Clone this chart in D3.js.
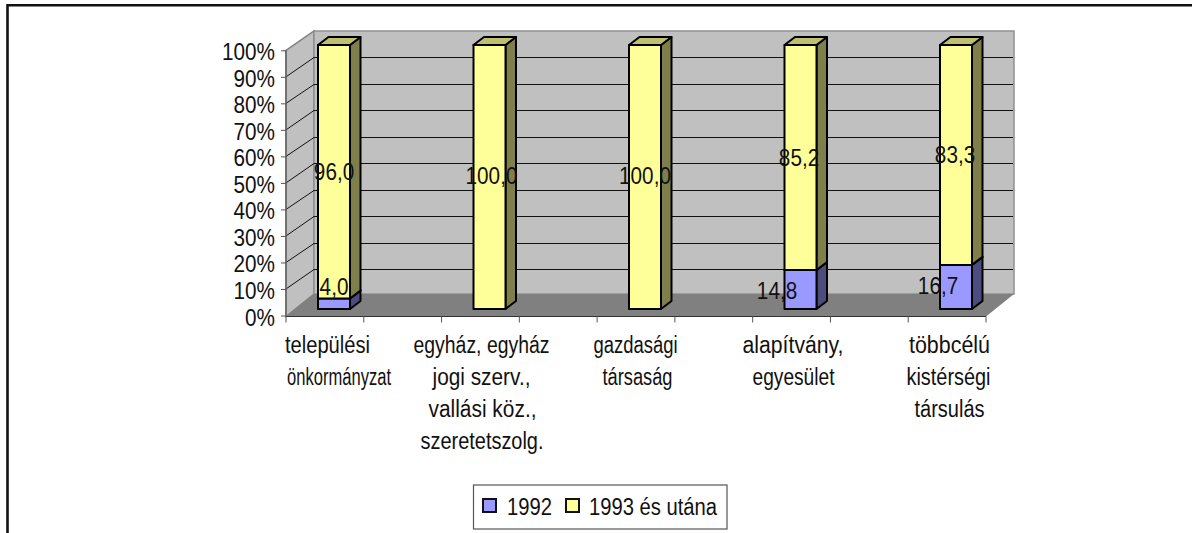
<!DOCTYPE html>
<html><head><meta charset="utf-8">
<script src="https://cdn.jsdelivr.net/npm/d3@7"></script>
<style>html,body{margin:0;padding:0;background:#fff}svg{display:block}text{font-family:"Liberation Sans",Arial,sans-serif;fill:#111}</style>
</head><body><svg id="c" width="1192" height="533"></svg>
<script>
const categories = [
  ["települési","önkormányzat"],
  ["egyház, egyház","jogi szerv.,","vallási köz.,","szeretetszolg."],
  ["gazdasági","társaság"],
  ["alapítvány,","egyesület"],
  ["többcélú","kistérségi","társulás"]
];
const seriesNames = ["1992","1993 és utána"];
const v1992 = [4.0,0,0,14.8,16.7];
const v1993 = [96.0,100.0,100.0,85.2,83.3];
const yTicks = [0,10,20,30,40,50,60,70,80,90,100];
const label1992dx = [0,0,0,-23.5,-18];
const label1992dy = [-9,0,0,10,7];
const label1993dx = [0,2,0,-1.5,-1];
const label1993dy = [8,7,7,8.5,8];
const catLineDx = [[1,12.5],[-0.5,-0.5,0.5,0],[-2,0],[0,0.5],[1,0,1]];
const catLineW = [[85,104],[136,98,108,123],[84,70],[101,82],[81,84,70]];
const colors = {
  wall:"#c0c0c0", floor:"#808080",
  front:["#9999ff","#ffff99"], side:["#4c4c7f","#7f7f4c"], top:["#bfbf72","#bfbf72"]
};
const svg = d3.select("#c");
// frame
svg.append("path").attr("d","M7.5,533V5.2H1192").attr("fill","none").attr("stroke","#111").attr("stroke-width",2.6);

const yFront = d3.scaleLinear().domain([0,100]).range([315.5,50.3]);
const yBack = d3.scaleLinear().domain([0,100]).range([295.5,31]);
const yBar = d3.scaleLinear().domain([0,100]).range([309,45]);
const xFront = 286, xBack = 314, xEnd = 986, xBackEnd = 1014, floorFront = 316.5, floorBack = 294;
const xCat = d3.scalePoint().domain(d3.range(categories.length)).range([334,956]);
const xTick = d3.scaleLinear().domain([0,9]).range([xFront,xEnd]);
const barW = 32, dx = 10.5, dy = -8;
const crisp = y => Math.round(y)+0.5;

// walls
const line = p => "M"+p.map(a=>a.join(",")).join("L")+"Z";
svg.append("path").attr("d",line([[xFront,floorFront],[xBack,floorBack],[xBack,yBack(100)],[xFront,yFront(100)]]))
  .attr("fill",colors.wall).attr("stroke","#808080").attr("stroke-width",1.5);
svg.append("path").attr("d",line([[xBack,floorBack],[xBackEnd,floorBack],[xBackEnd,yBack(100)],[xBack,yBack(100)]]))
  .attr("fill",colors.wall).attr("stroke","#909090").attr("stroke-width",1.5);
svg.append("path").attr("d",line([[xFront,floorFront],[xEnd,floorFront],[xBackEnd,floorBack],[xBack,floorBack]]))
  .attr("fill",colors.floor);
// gridlines
yTicks.filter(t=>t>0&&t<100).forEach(t=>{
  svg.append("path").attr("fill","none").attr("stroke","#111").attr("stroke-width",1)
    .attr("d",`M${xFront},${yFront(t)}L${xBack},${crisp(yBack(t))}L${xBackEnd-1},${crisp(yBack(t))}`);
});
svg.append("line").attr("x1",xFront).attr("x2",xFront).attr("y1",floorFront).attr("y2",yFront(100)).attr("stroke","#666").attr("stroke-width",1.5);
svg.append("line").attr("x1",xFront).attr("x2",xEnd).attr("y1",floorFront).attr("y2",floorFront).attr("stroke","#333").attr("stroke-width",1.2);

// y axis
const axisG = svg.append("g").attr("transform",`translate(${xFront},0)`)
  .call(d3.axisLeft(yFront).tickValues(yTicks).tickFormat(d=>d+"%").tickSize(5).tickPadding(6));
axisG.select(".domain").remove();
axisG.selectAll(".tick line").attr("stroke","#555");
axisG.selectAll("text").attr("font-size",23).attr("dy",null).attr("x",-11/0.9).attr("y",9.5).attr("font-family",null).attr("transform","scale(0.9,1)");

// x ticks
d3.range(10).forEach(i=>{
  svg.append("line").attr("x1",xTick(i)).attr("x2",xTick(i)).attr("y1",floorFront).attr("y2",floorFront+6).attr("stroke","#555");
});

// bars
function box(i,a,b,s){
  const x0 = xCat(i)-barW/2, x1 = x0+barW, y0 = yBar(a), y1 = yBar(b);
  const g = svg.append("g").attr("stroke","#000").attr("stroke-width",2).attr("stroke-linejoin","round");
  g.append("path").attr("d",line([[x1,y0],[x1+dx,y0+dy],[x1+dx,y1+dy],[x1,y1]])).attr("fill",colors.side[s]);
  g.append("path").attr("d",line([[x0,y1],[x1,y1],[x1+dx,y1+dy],[x0+dx,y1+dy]])).attr("fill",colors.top[s]);
  g.append("path").attr("d",line([[x0,y0],[x1,y0],[x1,y1],[x0,y1]])).attr("fill",colors.front[s]);
}
const fmt = v => v.toFixed(1).replace(".",",");
const dataLabel = (x,y,t) => svg.append("text").attr("text-anchor","middle").attr("font-size",23)
  .attr("transform",`translate(${x},${y}) scale(0.9,1)`).text(t);
categories.forEach((c,i)=>{
  if(v1992[i]>0) box(i,0,v1992[i],0);
  box(i,v1992[i],100,1);
});
categories.forEach((c,i)=>{
  if(v1992[i]>0) dataLabel(xCat(i)+label1992dx[i],yBar(v1992[i]/2)+label1992dy[i],fmt(v1992[i]));
  dataLabel(xCat(i)+label1993dx[i],yBar(v1992[i]+v1993[i]/2)+label1993dy[i],fmt(v1993[i]));
});

// category labels
categories.forEach((c,i)=>{
  c.forEach((t,j)=>{
    svg.append("text").attr("text-anchor","middle").attr("font-size",23)
      .attr("textLength",catLineW[i][j]).attr("lengthAdjust","spacingAndGlyphs")
      .attr("x",xCat(i)-7.5+catLineDx[i][j]).attr("y",353+j*32).text(t);
  });
});

// legend
const lg = svg.append("g");
lg.append("rect").attr("x",473.5).attr("y",485).attr("width",253.5).attr("height",44).attr("fill","#fff").attr("stroke","#555").attr("stroke-width",1.2);
[[483,507,45],[566,589,128]].forEach((p,i)=>{
  lg.append("rect").attr("x",p[0]).attr("y",499).attr("width",13).attr("height",13).attr("fill",colors.front[i]).attr("stroke","#111").attr("stroke-width",2);
  lg.append("text").attr("x",p[1]).attr("y",515).attr("font-size",23)
    .attr("textLength",p[2]).attr("lengthAdjust","spacingAndGlyphs").text(seriesNames[i]);
});
</script></body></html>
